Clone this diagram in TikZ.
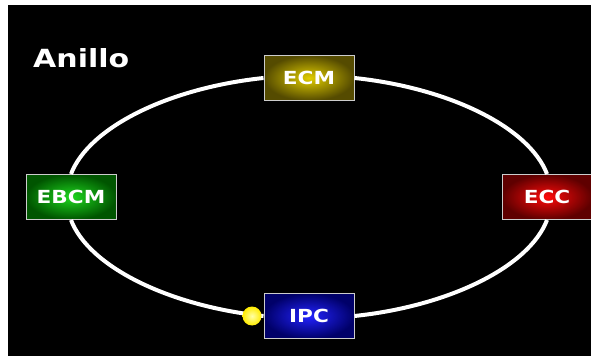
\documentclass[tikz,border=0pt]{standalone}
\usepackage{fontspec}
\setmainfont{DejaVu Sans}
\usepackage{graphicx}
\newcommand{\wide}[1]{\scalebox{1.2}[1]{#1}}
\definecolor{ecmin}{RGB}{225,205,0}
\definecolor{ecmout}{RGB}{85,75,0}
\definecolor{eccin}{RGB}{255,10,10}
\definecolor{eccout}{RGB}{95,0,0}
\definecolor{ebcmin}{RGB}{30,215,30}
\definecolor{ebcmout}{RGB}{0,85,0}
\definecolor{ipcin}{RGB}{35,35,255}
\definecolor{ipcout}{RGB}{0,0,105}
\begin{document}
\begin{tikzpicture}[x=1pt,y=1pt,
	estacion/.style={draw=black!20,line width=1pt,minimum width=90pt,minimum height=45pt,
		inner sep=0pt,shading=radial,text=white,font=\bfseries\fontsize{18}{18}\selectfont},
	anillo/.style={draw=white,line width=4pt,out looseness=1.12,in looseness=0.6}]
	\useasboundingbox(0,0)rectangle(591,356);
	\fill[white](0,0)rectangle(591,356);
	\fill[black](8,0)rectangle(591,351);
	\node[anchor=base west,inner sep=0pt,text=white,font=\bfseries\fontsize{25}{25}\selectfont]
		(titulo)at(33,288){\wide{Anillo}};
	% estaciones del anillo
	\node[estacion,inner color=ecmin,outer color=ecmout](ecm)at(309,278){\wide{ECM}};
	\node[estacion,inner color=ebcmin,outer color=ebcmout](ebcm)at(71,159){\wide{EBCM}};
	\node[estacion,inner color=eccin,outer color=eccout](ecc)at(547,159){\wide{ECC}};
	\node[estacion,inner color=ipcin,outer color=ipcout](ipc)at(309,40){\wide{IPC}};
	\draw[anillo](ecm.west)to[out=186,in=69](ebcm.north);
	\draw[anillo,out looseness=0.6,in looseness=1.12](ebcm.south)to[out=291,in=174](ipc.west);
	\draw[anillo](ipc.east)to[out=6,in=249](ecc.south);
	\draw[anillo,out looseness=0.6,in looseness=1.12](ecc.north)to[out=111,in=354](ecm.east);
	% testigo
	\node[circle,minimum size=19pt,inner sep=0pt,shading=radial,inner color=yellow!35!white,
		outer color=yellow!85!orange](testigo)at(252,40){};
\end{tikzpicture}
\end{document}
